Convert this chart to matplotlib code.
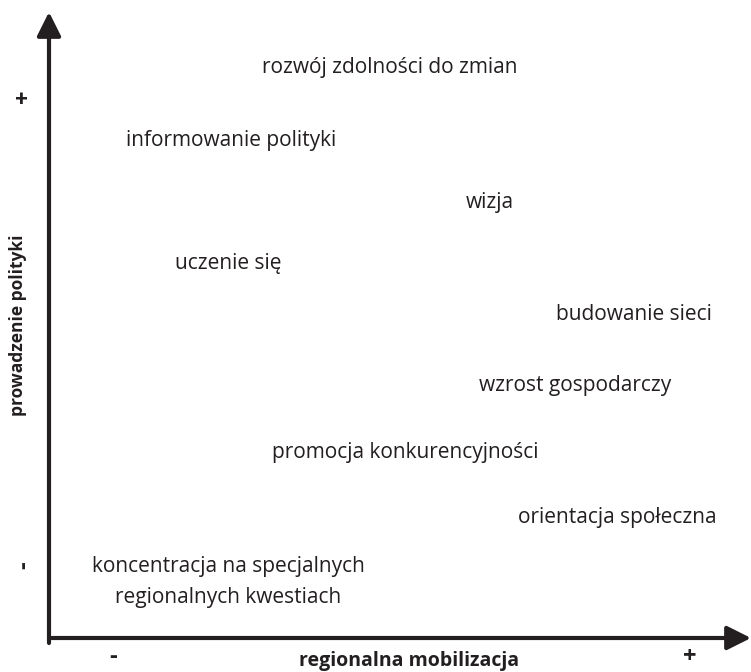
import matplotlib.pyplot as plt

# concept positions on a 0-100 scale (x: regionalna mobilizacja, y: prowadzenie polityki)
labels = [
    "rozwój zdolności do zmian",
    "informowanie polityki",
    "wizja",
    "uczenie się",
    "budowanie sieci",
    "wzrost gospodarczy",
    "promocja konkurencyjności",
    "orientacja społeczna",
    "koncentracja na specjalnych\nregionalnych kwestiach",
]
x_vals = [48.6, 25.9, 62.8, 25.5, 83.3, 74.9, 50.7, 80.9, 25.5]
y_vals = [91.1, 79.4, 69.5, 59.9, 51.6, 40.4, 29.6, 19.2, 8.9]

x_ticks = [9.2, 91.3]
x_ticklabels = ["-", "+"]
y_ticks = [11.7, 86.6]
y_ticklabels = ["-", "+"]

ink = "#231f20"
plt.rcParams["font.family"] = ["Open Sans", "DejaVu Sans"]

fig = plt.figure(figsize=(7.51, 6.72), dpi=100)
ax = fig.add_axes([49 / 751, 34 / 672, 702 / 751, 626 / 672])
ax.set_xlim(0, 100)
ax.set_ylim(0, 100)
for s in ax.spines.values():
    s.set_visible(False)

for lab, x, y in zip(labels, x_vals, y_vals):
    ax.text(x, y, lab, ha="center", va="center", fontsize=15,
            color=ink, linespacing=1.65)

arrow = dict(arrowstyle="-|>,head_length=0.5,head_width=0.25", lw=3,
             color=ink, mutation_scale=29, shrinkA=0, shrinkB=0)
ax.annotate("", xy=(0, 1), xytext=(0, -0.008), xycoords="axes fraction",
            arrowprops=arrow, annotation_clip=False)
ax.annotate("", xy=(1.0, 0), xytext=(0.004, 0), xycoords="axes fraction",
            arrowprops=arrow, annotation_clip=False)

ax.set_xticks(x_ticks)
ax.set_xticklabels(x_ticklabels, fontsize=17, fontweight="bold", color=ink,
                   va="center")
ax.set_yticks(y_ticks)
ax.set_yticklabels(y_ticklabels, fontsize=17, fontweight="bold", color=ink,
                   rotation=90, va="center", ha="center")
ax.tick_params(axis="x", length=0, pad=14)
ax.tick_params(axis="y", length=0, pad=18)

ax.set_xlabel("regionalna mobilizacja", fontsize=14, fontweight="bold",
              color=ink, va="center")
ax.xaxis.set_label_coords(0.513, -0.036)
ax.set_ylabel("prowadzenie polityki", fontsize=12.5, fontweight="bold",
              color=ink, va="center")
ax.yaxis.set_label_coords(-0.044, 0.5)

fig.savefig("out.png", dpi=100)
